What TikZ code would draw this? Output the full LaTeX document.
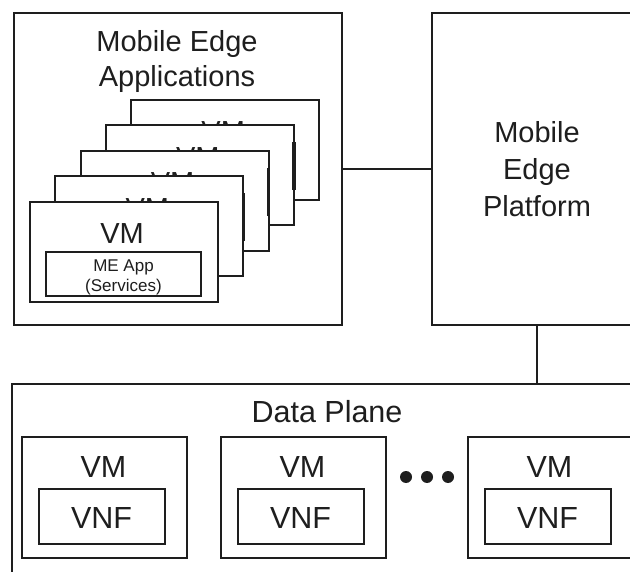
\documentclass[tikz,border=0pt]{standalone}
\usepackage{fontspec}
\setmainfont{Liberation Sans}
\definecolor{inkc}{RGB}{30,30,30}
\begin{document}
\begin{tikzpicture}[x=1pt,y=-1pt,
  box/.style={draw=inkc, line width=2pt, rectangle, inner sep=0pt, outer sep=0pt, fill=white},
  wire/.style={draw=inkc, line width=1.2pt},
  big/.style={font=\fontsize{29}{37}\selectfont, text=inkc, inner sep=0pt, align=center},
  tight/.style={big, font=\fontsize{29}{35}\selectfont},
  plane/.style={big, font=\fontsize{30.5}{37}\selectfont},
  small/.style={font=\fontsize{17}{20}\selectfont, text=inkc, inner sep=0pt, align=center},
  dot/.style={circle, fill=inkc, inner sep=0pt, minimum size=12pt},
]
\clip (0,0) rectangle (630,572);
\fill[white] (0,0) rectangle (630,572);

% Mobile Edge Applications (anchor base = baseline of the last line)
\node[box, minimum width=328pt, minimum height=312pt] (mea) at (177.5,169) {};
\node[tight, anchor=base] (meatitle) at (177,87) {Mobile Edge\\Applications};

% stack of application VMs, back to front
\foreach \k in {4,3,2,1,0} {
  \node[box, minimum width=188pt, minimum height=100pt] (app\k) at ({124+25.3*\k},{252-25.5*\k}) {};
  \node[big, anchor=base] (appvm\k) at ({122+25.3*\k},{244-25.5*\k}) {VM};
}
\foreach \k in {1,2,3} {
  \draw[inkc, line width=3.5pt] ([yshift=-17pt]app\k.north east) -- ++(0,48);
}
\node[box, minimum width=155pt, minimum height=44pt] (meapp) at (123.5,274) {};
\node[small, anchor=base] (meapptext) at (123.5,292) {ME App\\(Services)};

% Mobile Edge Platform
\node[box, minimum width=210pt, minimum height=312pt] (mep) at (537,169) {};
\node[big, anchor=base] (meptitle) at (537,217) {Mobile\\Edge\\Platform};

% Data Plane
\node[box, minimum width=638pt, minimum height=216pt] (dp) at (331,492) {};
\node[plane, anchor=base] (dptitle) at (327,423) {Data Plane};

\foreach \i/\x in {1/104.5, 2/303.5, 3/550.5} {
  \node[box, minimum width=165pt, minimum height=121pt] (vm\i) at (\x,497.5) {};
  \node[plane, anchor=base] (vmtext\i) at ({\x-1},477) {VM};
  \node[box, minimum width=126pt, minimum height=55pt] (vnf\i) at ({\x-3},516.5) {};
  \node[plane, anchor=base] (vnftext\i) at ({\x-3},528) {VNF};
}
\node[dot] (d1) at (406,477) {};
\node[dot] (d2) at (427,477) {};
\node[dot] (d3) at (448,477) {};

% connectors
\draw[wire] (mea.east) -- (mep.west);
\draw[wire] (mep.south) -- (mep.south |- dp.north);
\end{tikzpicture}
\end{document}
